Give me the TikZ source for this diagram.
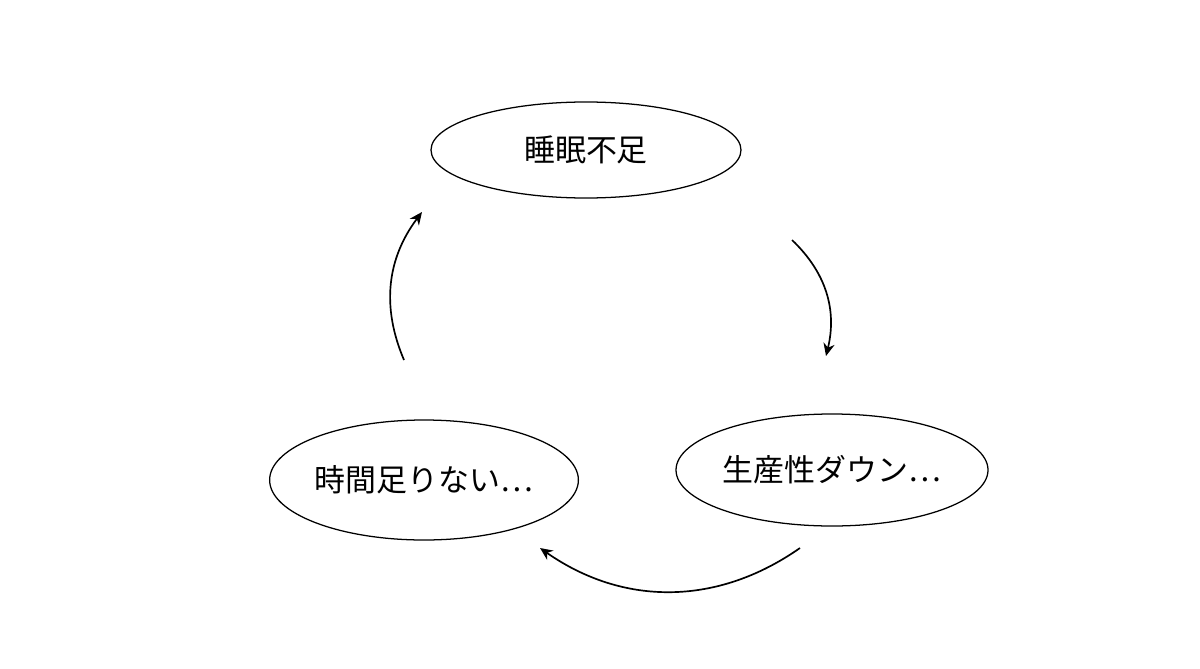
\documentclass[tikz,border=0pt]{standalone}
\usepackage{fontspec}
\newfontfamily\cjk{Noto Sans CJK JP}
\usetikzlibrary{shapes.geometric,arrows.meta}
\tikzset{
    bubble/.style={ellipse, draw, line width=0.9pt, inner sep=0pt, font=\cjk\fontsize{22}{26}\selectfont},
    flow/.style={-{Stealth[length=9pt,width=8pt]}, line width=1.2pt}
}
\begin{document}
\begin{tikzpicture}
    \useasboundingbox (0,0) rectangle (30,16.7);
    \node [bubble, minimum width=7.75cm, minimum height=2.4cm] (sleep) at (14.65,12.95) {睡眠不足};
    \node [bubble, minimum width=7.8cm, minimum height=2.8cm] (down) at (20.8,4.95) {生産性ダウン…};
    \node [bubble, minimum width=7.6cm, minimum height=3cm] (time) at (10.6,4.7) {時間足りない…};
    \coordinate (a1) at (19.8,10.7);
    \coordinate (a2) at (20.65,7.8);
    \coordinate (b1) at (20,3.0);
    \coordinate (b2) at (13.5,3.0);
    \coordinate (c1) at (10.1,7.7);
    \coordinate (c2) at (10.55,11.4);
    \draw [flow] (a1) to [bend left=30] (a2);
    \draw [flow] (b1) to [bend left=35] (b2);
    \draw [flow] (c1) to [bend left=30] (c2);
\end{tikzpicture}
\end{document}
